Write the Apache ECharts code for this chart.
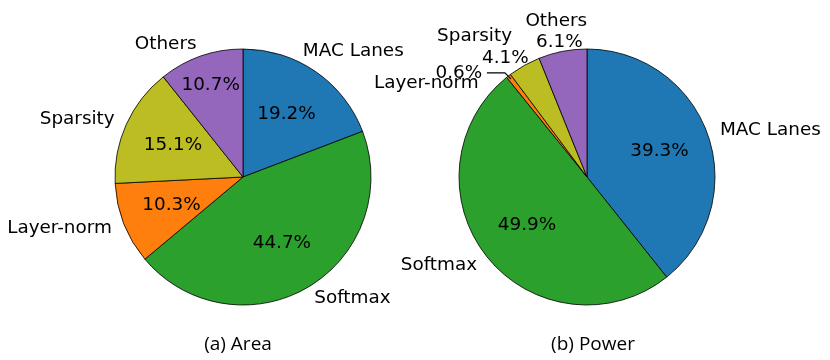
<!DOCTYPE html>
<html>
<head>
<meta charset="utf-8">
<title>Area and power breakdown</title>
<script src="https://cdn.jsdelivr.net/npm/echarts@6/dist/echarts.min.js"></script>
<style>
    html, body { margin: 0; padding: 0; background: #fff; }
    #breakdown_chart { width: 830px; height: 360px; }
</style>
</head>
<body>
<div id="breakdown_chart"></div>
<script>

// Data
// ------------------------------

var componentNames = ['MAC Lanes', 'Softmax', 'Layer-norm', 'Sparsity', 'Others'];
var areaShares = [19.2, 44.7, 10.3, 15.1, 10.7];
var powerShares = [39.3, 49.9, 0.6, 4.1, 6.1];
var panelTitles = ['(a) Area', '(b) Power'];
var sliceColors = ['#1f77b4', '#2ca02c', '#ff7f0e', '#bcbd22', '#9467bd'];


// Layout helpers
// ------------------------------

var R = 128;
var centers = [[243, 177], [587, 177]];
var labelFont = 'DejaVu Sans';
var labelSize = 18.4;

// hand-moved labels (dataIndex -> [dx, dy]), like the original figure
var nameNudges = [
    {0: [-20, -10]},
    {2: [-22, 17], 3: [-6, -18], 4: [27, -18]}
];
var pctNudges = [
    {4: [-7, -19]},
    {2: [-81, -43], 3: [-44, -52], 4: [-13, -59]}
];

function toData(values) {
    return values.map(function (v, i) {
        return {value: v, name: componentNames[i]};
    });
}

function nudger(table) {
    return function (params) {
        var d = table[params.dataIndex];
        if (d) {
            return {dx: d[0], dy: d[1]};
        }
    };
}

// slices with names outside (labeldistance 1.1)
function nameSeries(values, k) {
    return {
        type: 'pie',
        center: centers[k],
        radius: [0, R],
        startAngle: 90,
        clockwise: true,
        avoidLabelOverlap: false,
        silent: true,
        color: sliceColors,
        itemStyle: {
            borderColor: '#000',
            borderWidth: 0.8
        },
        label: {
            show: true,
            position: 'outside',
            formatter: '{b}',
            color: '#000',
            fontFamily: labelFont,
            fontSize: labelSize,
            distanceToLabelLine: 0
        },
        labelLine: {
            show: false,
            length: R * 0.1,
            length2: 0
        },
        labelLayout: nudger(nameNudges[k]),
        data: toData(values)
    };
}

// transparent copy that only carries the percentages (pctdistance 0.6)
function pctSeries(values, k) {
    return {
        type: 'pie',
        center: centers[k],
        radius: [0, R * 1.2 - 6],
        startAngle: 90,
        clockwise: true,
        avoidLabelOverlap: false,
        silent: true,
        z: 3,
        itemStyle: {
            color: 'rgba(0,0,0,0)',
            borderWidth: 0
        },
        label: {
            show: true,
            position: 'inside',
            formatter: function (p) { return p.value.toFixed(1) + '%'; },
            color: '#000',
            fontFamily: labelFont,
            fontSize: labelSize
        },
        labelLine: {show: false},
        labelLayout: nudger(pctNudges[k]),
        data: toData(values)
    };
}

// little leader for the 0.6% slice
function leaderPoints() {
    var total = powerShares.reduce(function (a, b) { return a + b; }, 0);
    var before = powerShares[0] + powerShares[1];
    var mid = (before + powerShares[2] / 2) / total * 2 * Math.PI;
    var ex = centers[1][0] + Math.sin(mid) * R * 0.97;
    var ey = centers[1][1] - Math.cos(mid) * R * 0.97;
    return [[ex - 24, ey - 6], [ex - 6, ey - 6], [ex, ey]];
}


// Chart
// ------------------------------

var chart = echarts.init(document.getElementById('breakdown_chart'), null, {renderer: 'canvas'});

chart.setOption({
    animation: false,
    backgroundColor: '#fff',
    series: [
        nameSeries(areaShares, 0),
        pctSeries(areaShares, 0),
        nameSeries(powerShares, 1),
        pctSeries(powerShares, 1)
    ],
    graphic: [
        {
            type: 'polyline',
            z: 10,
            shape: {points: leaderPoints()},
            style: {stroke: '#000', lineWidth: 1.2, fill: null}
        },
        {
            type: 'text',
            x: 238, y: 345,
            style: {
                text: panelTitles[0], fill: '#000',
                font: '19px "Open Sans"',
                textAlign: 'center', textVerticalAlign: 'middle'
            }
        },
        {
            type: 'text',
            x: 593, y: 345,
            style: {
                text: panelTitles[1], fill: '#000',
                font: '19px "Open Sans"',
                textAlign: 'center', textVerticalAlign: 'middle'
            }
        }
    ]
});

</script>
</body>
</html>
